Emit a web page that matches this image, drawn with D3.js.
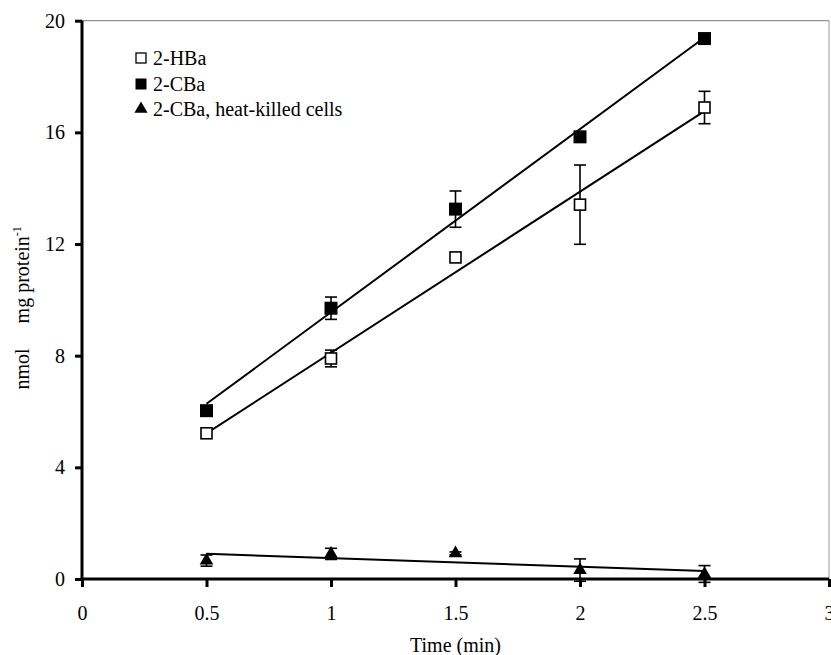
<!DOCTYPE html>
<html><head><meta charset="utf-8">
<script src="https://cdn.jsdelivr.net/npm/d3@7"></script>
<style>body{margin:0;background:#fff}svg{display:block}text{font-family:"Liberation Serif","Times New Roman",serif;fill:#000}</style>
</head><body><svg id="c" width="831" height="655"></svg>
<script>
const times = [0.5, 1, 1.5, 2, 2.5];
const hbaValues = [5.22, 7.9, 11.52, 13.41, 16.89];
const hbaErrors = [0, 0.3, 0, 1.42, 0.58];
const cbaValues = [6.03, 9.7, 13.25, 15.84, 19.36];
const cbaErrors = [0, 0.4, 0.65, 0, 0];
const killedValues = [0.66, 0.9, 0.92, 0.32, 0.18];
const killedErrors = [0.2, 0.2, 0.05, 0.4, 0.3];
const xTicks = [0, 0.5, 1, 1.5, 2, 2.5, 3];
const yTicks = [0, 4, 8, 12, 16, 20];
const seriesNames = ["2-HBa", "2-CBa", "2-CBa, heat-killed cells"];

const svg = d3.select("#c");
const L = 82, R = 829, T = 20.7, B = 579;
const x = d3.scaleLinear().domain([0, 3]).range([L, R]);
const y = d3.scaleLinear().domain([0, 20]).range([B, T]);

// frame top/right thin gray
svg.append("line").attr("x1", L).attr("x2", R).attr("y1", T).attr("y2", T).attr("stroke", "#777").attr("stroke-width", 1);
svg.append("line").attr("x1", R).attr("x2", R).attr("y1", T).attr("y2", B).attr("stroke", "#999").attr("stroke-width", 1);

const xAxis = svg.append("g").attr("transform", `translate(0,${B})`)
  .call(d3.axisBottom(x).tickValues(xTicks).tickFormat(d3.format("")).tickSize(8).tickPadding(19));
const yAxis = svg.append("g").attr("transform", `translate(${L},0)`)
  .call(d3.axisLeft(y).tickValues(yTicks).tickSize(7).tickPadding(10));
[xAxis, yAxis].forEach(g => {
  g.attr("font-family", null);
  g.select(".domain").attr("stroke", "#000").attr("stroke-width", 3);
  g.selectAll(".tick line").attr("stroke", "#000").attr("stroke-width", 3);
  g.selectAll(".tick text").style("font-size", "20px");
});
yAxis.select(".domain").attr("d", `M0,${T}V${B + 1.5}`);
xAxis.select(".domain").attr("d", `M${L - 1.5},0H${R}`);

// axis titles
svg.append("text").attr("x", x(1.5)).attr("y", 652).attr("text-anchor", "middle").style("font-size", "20px").text("Time (min)");
const yl = svg.append("text").attr("transform", `translate(29,${(T + B) / 2 + 8}) rotate(-90)`).attr("text-anchor", "middle").style("font-size", "20px");
yl.append("tspan").text("nmol\u2003 mg protein");
yl.append("tspan").attr("dy", -8).style("font-size", "12px").text("-1");

// least-squares trend line through each series' points
function fit(xs, ys) {
  const mx = d3.mean(xs), my = d3.mean(ys);
  const s = d3.sum(xs, (v, i) => (v - mx) * (ys[i] - my)) / d3.sum(xs, v => (v - mx) ** 2);
  return [[xs[0], my + s * (xs[0] - mx)], [xs[xs.length - 1], my + s * (xs[xs.length - 1] - mx)]];
}
const line = d3.line().x(d => x(d[0])).y(d => y(d[1]));
const series = [
  {vals: hbaValues, errs: hbaErrors, type: "open"},
  {vals: cbaValues, errs: cbaErrors, type: "filled"},
  {vals: killedValues, errs: killedErrors, type: "tri"}
];
series.forEach(s => {
  svg.append("path").attr("d", line(fit(times, s.vals))).attr("fill", "none").attr("stroke", "#000").attr("stroke-width", 2);
  const g = svg.append("g");
  times.forEach((t, i) => {
    const e = s.errs[i];
    if (e > 0) {
      const cx = x(t), y1 = y(s.vals[i] + e), y2 = y(s.vals[i] - e);
      g.append("line").attr("x1", cx).attr("x2", cx).attr("y1", y1).attr("y2", y2).attr("stroke", "#000").attr("stroke-width", 1.6);
      g.append("line").attr("x1", cx - 6).attr("x2", cx + 6).attr("y1", y1).attr("y2", y1).attr("stroke", "#000").attr("stroke-width", 1.6);
      g.append("line").attr("x1", cx - 6).attr("x2", cx + 6).attr("y1", y2).attr("y2", y2).attr("stroke", "#000").attr("stroke-width", 1.6);
    }
  });
  times.forEach((t, i) => drawMarker(g, s.type, x(t), y(s.vals[i])));
});
function drawMarker(g, type, cx, cy) {
  if (type === "open") {
    g.append("rect").attr("x", cx - 5.5).attr("y", cy - 5.5).attr("width", 11).attr("height", 11).attr("fill", "#fff").attr("stroke", "#000").attr("stroke-width", 1.6);
  } else if (type === "filled") {
    g.append("rect").attr("x", cx - 6.5).attr("y", cy - 6.5).attr("width", 13).attr("height", 13).attr("fill", "#000");
  } else {
    g.append("path").attr("d", d3.symbol().type(d3.symbolTriangle).size(80)()).attr("transform", `translate(${cx},${cy})`).attr("fill", "#000");
  }
}
// legend
const legY = [58, 84, 109];
const types = ["open", "filled", "tri"];
seriesNames.forEach((n, i) => {
  const g = svg.append("g");
  if (types[i] === "open") g.append("rect").attr("x", 136).attr("y", legY[i] - 5).attr("width", 10).attr("height", 10).attr("fill", "#fff").attr("stroke", "#000").attr("stroke-width", 1.3);
  else if (types[i] === "filled") g.append("rect").attr("x", 135.5).attr("y", legY[i] - 5.5).attr("width", 11).attr("height", 11).attr("fill", "#000");
  else g.append("path").attr("d", d3.symbol().type(d3.symbolTriangle).size(75)()).attr("transform", `translate(141,${legY[i]})`).attr("fill", "#000");
  svg.append("text").attr("x", 153).attr("y", legY[i] + 7).style("font-size", "20px").text(n);
});
</script></body></html>
